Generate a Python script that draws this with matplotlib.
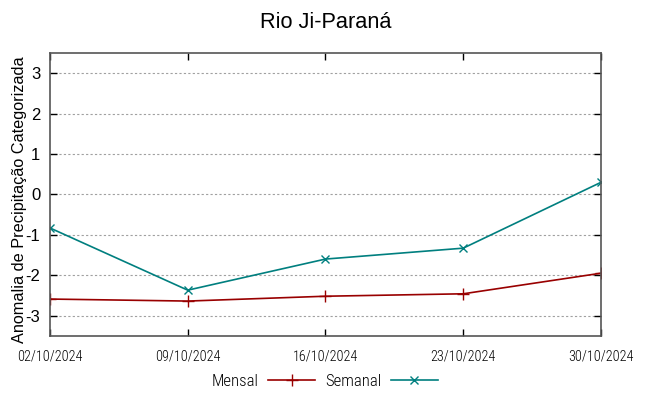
import matplotlib
matplotlib.use("Agg")
import matplotlib.pyplot as plt
import numpy as np

datas = ["02/10/2024", "09/10/2024", "16/10/2024", "23/10/2024", "30/10/2024"]
mensal = [-2.59, -2.64, -2.52, -2.46, -1.95]
semanal = [-0.83, -2.37, -1.60, -1.33, 0.30]

plt.rcParams["font.family"] = ["Liberation Sans", "DejaVu Sans"]
plt.rcParams["axes.unicode_minus"] = False
narrow = ["Roboto Condensed", "Liberation Sans"]

fig, ax = plt.subplots(figsize=(6.49, 3.96), dpi=100)
fig.subplots_adjust(left=0.077, right=0.926, top=0.866, bottom=0.152)

x = np.arange(len(datas))
ax.plot(x, mensal, color="#990000", lw=1.2, marker="+", ms=8, mew=1, label="Mensal")
ax.plot(x, semanal, color="#007f7f", lw=1.2, marker="x", ms=6, mew=1, label="Semanal")

ax.set_xlim(0, len(datas) - 1)
ax.set_ylim(-3.5, 3.5)
ax.set_xticks(x)
ax.set_xticklabels(datas, family=narrow, fontsize=10.2, fontweight=300)
ax.set_yticks(range(-3, 4))
ax.tick_params(axis="y", labelsize=12, pad=7)
ax.tick_params(axis="x", pad=10)
ax.tick_params(direction="in", top=True, right=True, length=5, width=1)
ax.grid(True, axis="y", color="#a0a0a0", linestyle=(0, (2, 2)), lw=0.8)
for s in ax.spines.values():
    s.set_color("#555555")
    s.set_linewidth(1.2)

ax.set_ylabel("Anomalia de Precipitação Categorizada", fontsize=11.7)
ax.yaxis.set_label_coords(-0.042, 0.48)
ax.set_title("Rio Ji-Paraná", fontsize=15.7, pad=18)

fig.legend(loc="lower center", bbox_to_anchor=(0.5, -0.02), ncol=2, frameon=False,
           markerfirst=False, prop={"family": narrow, "size": 12, "weight": 300},
           handlelength=2.8, columnspacing=0.6, handletextpad=0.6)

fig.savefig("out.png", dpi=100)
